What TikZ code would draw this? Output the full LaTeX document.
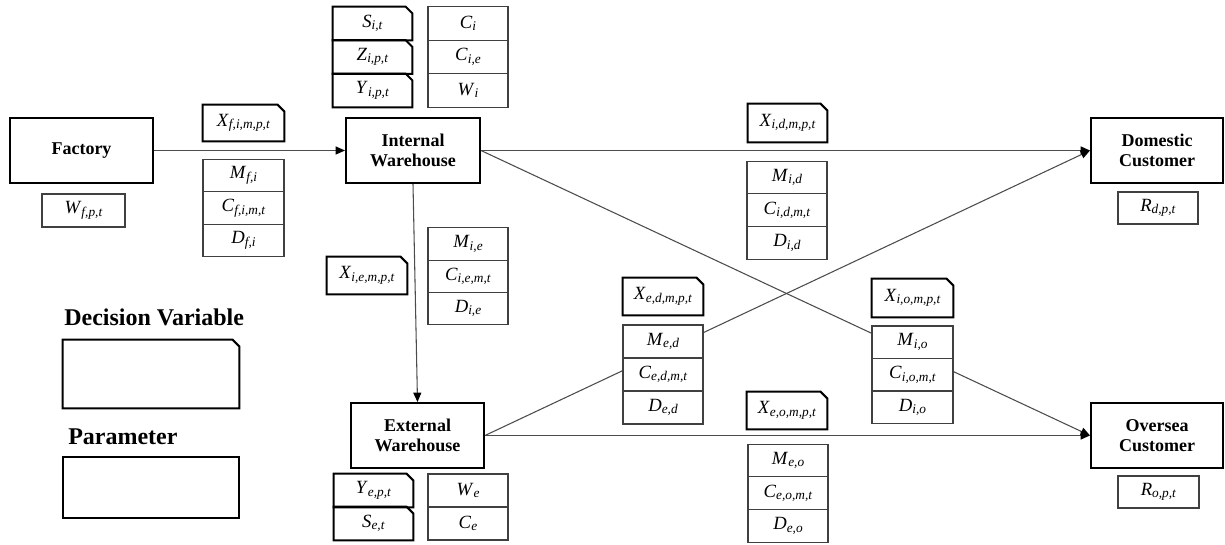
\documentclass[tikz,border=0pt]{standalone}
\usepackage{fontspec}
\setmainfont{Liberation Serif}
\usetikzlibrary{arrows.meta}
\newcommand\vv[2]{\textit{#1}\raisebox{-0.3ex}{\fontsize{10}{10}\selectfont\textit{#2}}}
\newcommand\decout[1]{\draw[decline] (#1.south west) -- (#1.north west) -- ([xshift=-5pt]#1.north east) -- ([yshift=-5pt]#1.north east) -- (#1.south east) -- cycle;}
\begin{document}
\begin{tikzpicture}[x=0.75pt,y=-0.75pt,
 mainbox/.style 2 args={draw=black, line width=1.5pt, fill=white, inner sep=0pt, minimum width=#1*0.75pt, minimum height=#2*0.75pt, align=center, font=\fontsize{13.5}{15.5}\selectfont\bfseries},
 parbox/.style 2 args={draw=black!75, line width=0.9pt, fill=white, inner sep=0pt, minimum width=#1*0.75pt, minimum height=#2*0.75pt, font=\fontsize{14}{16}\selectfont},
 decbox/.style 2 args={rectangle, fill=white, inner sep=0pt, minimum width=#1*0.75pt, minimum height=#2*0.75pt, font=\fontsize{14}{16}\selectfont},
 decline/.style={draw=black, line width=1.5pt, line join=miter},
 link/.style={draw=black!70, line width=0.8pt},
 arr/.style={link, -{Triangle[length=7pt,width=6pt,color=black]}},
 legendtext/.style={anchor=base west, inner sep=0pt, font=\fontsize{18}{20}\selectfont\bfseries}
]
\useasboundingbox (0,0) rectangle (1225,545);

% main nodes
\node[mainbox={143}{65}] (factory) at (81.5,150.5) {Factory};
\node[mainbox={134}{65}] (internal) at (413,150.5) {Internal\\Warehouse};
\node[mainbox={133}{65}] (external) at (417.5,435.5) {External\\Warehouse};
\node[mainbox={132}{65}] (domestic) at (1157,150.5) {Domestic\\Customer};
\node[mainbox={132}{65}] (oversea) at (1157,435.5) {Oversea\\Customer};

% connectors
\draw[arr] (factory.east) -- (internal.west);
\draw[arr] (internal.east) -- (domestic.west);
\draw[arr] (internal.east) -- (oversea.west);
\draw[arr] (external.east) -- (domestic.west);
\draw[arr] (external.east) -- (oversea.west);
\draw[arr] (internal.south) -- (external.north);

% factory
\node[parbox={83}{33}] (wfpt) at (83.5,210.5) {\vv{W}{f,p,t}};
\node[decbox={81}{36}] (xfi) at (243.5,123) {\vv{X}{f,i,m,p,t}};
\node[parbox={81}{32.7}] (mfi) at (243.5,175.5) {\vv{M}{f,i}};
\node[parbox={81}{32.7}] (cfi) at (243.5,208) {\vv{C}{f,i,m,t}};
\node[parbox={81}{32.7}] (dfi) at (243.5,240.5) {\vv{D}{f,i}};

% internal warehouse
\node[decbox={79}{33.3}] (sit) at (372.5,23.5) {\vv{S}{i,t}};
\node[decbox={79}{33.3}] (zipt) at (372.5,57) {\vv{Z}{i,p,t}};
\node[decbox={79}{33.3}] (yipt) at (372.5,90.5) {\vv{Y}{i,p,t}};
\node[parbox={80}{33.3}] (ci) at (468,23.5) {\vv{C}{i}};
\node[parbox={80}{33.3}] (cie) at (468,57) {\vv{C}{i,e}};
\node[parbox={80}{33.3}] (wi) at (468,90.5) {\vv{W}{i}};

% internal -> external
\node[decbox={80}{37}] (xie) at (367,275.5) {\vv{X}{i,e,m,p,t}};
\node[parbox={80}{32.3}] (mie) at (468,244) {\vv{M}{i,e}};
\node[parbox={80}{32.3}] (ciemt) at (468,276.3) {\vv{C}{i,e,m,t}};
\node[parbox={80}{32.3}] (die) at (468,308.6) {\vv{D}{i,e}};

% external warehouse
\node[decbox={79}{33}] (yept) at (373.5,490.5) {\vv{Y}{e,p,t}};
\node[decbox={79}{33}] (set) at (373.5,523.5) {\vv{S}{e,t}};
\node[parbox={80}{33}] (we) at (468,490.5) {\vv{W}{e}};
\node[parbox={80}{33}] (ce) at (468,523.5) {\vv{C}{e}};

% internal -> domestic
\node[decbox={79}{38}] (xid) at (787.5,123) {\vv{X}{i,d,m,p,t}};
\node[parbox={80}{32.7}] (mid) at (787,177.5) {\vv{M}{i,d}};
\node[parbox={80}{32.7}] (cid) at (787,210.2) {\vv{C}{i,d,m,t}};
\node[parbox={80}{32.7}] (did) at (787,242.9) {\vv{D}{i,d}};

% external -> domestic
\node[decbox={80}{37}] (xed) at (663,296.5) {\vv{X}{e,d,m,p,t}};
\node[parbox={80}{33}] (med) at (663,341.5) {\vv{M}{e,d}};
\node[parbox={80}{33}] (ced) at (663,374.5) {\vv{C}{e,d,m,t}};
\node[parbox={80}{33}] (ded) at (663,407.5) {\vv{D}{e,d}};

% internal -> oversea
\node[decbox={81}{38}] (xio) at (912.5,298) {\vv{X}{i,o,m,p,t}};
\node[parbox={81}{32.5}] (mio) at (912.5,342.2) {\vv{M}{i,o}};
\node[parbox={81}{32.5}] (cio) at (912.5,374.7) {\vv{C}{i,o,m,t}};
\node[parbox={81}{32.5}] (dio) at (912.5,407.2) {\vv{D}{i,o}};

% external -> oversea
\node[decbox={80}{37}] (xeo) at (787,410.5) {\vv{X}{e,o,m,p,t}};
\node[parbox={80}{32.7}] (meo) at (788,460.5) {\vv{M}{e,o}};
\node[parbox={80}{32.7}] (ceo) at (788,493.2) {\vv{C}{e,o,m,t}};
\node[parbox={80}{32.7}] (deo) at (788,525.9) {\vv{D}{e,o}};

% customers
\node[parbox={80}{32}] (rdpt) at (1158,208) {\vv{R}{d,p,t}};
\node[parbox={81}{32}] (ropt) at (1158.5,492) {\vv{R}{o,p,t}};

% legend
\node[legendtext] (legdec) at (64,326) {Decision Variable};
\node[decbox={176}{68}] (legdecbox) at (151,374) {};
\node[legendtext] (legpar) at (68,444) {Parameter};
\node[parbox={176}{61}, draw=black, line width=1.5pt] (legparbox) at (151,487.5) {};

% decision-variable outlines (cut top-right corner)
\decout{xfi}
\decout{sit}
\decout{zipt}
\decout{yipt}
\decout{xie}
\decout{yept}
\decout{set}
\decout{xid}
\decout{xed}
\decout{xio}
\decout{xeo}
\decout{legdecbox}
\end{tikzpicture}
\end{document}
